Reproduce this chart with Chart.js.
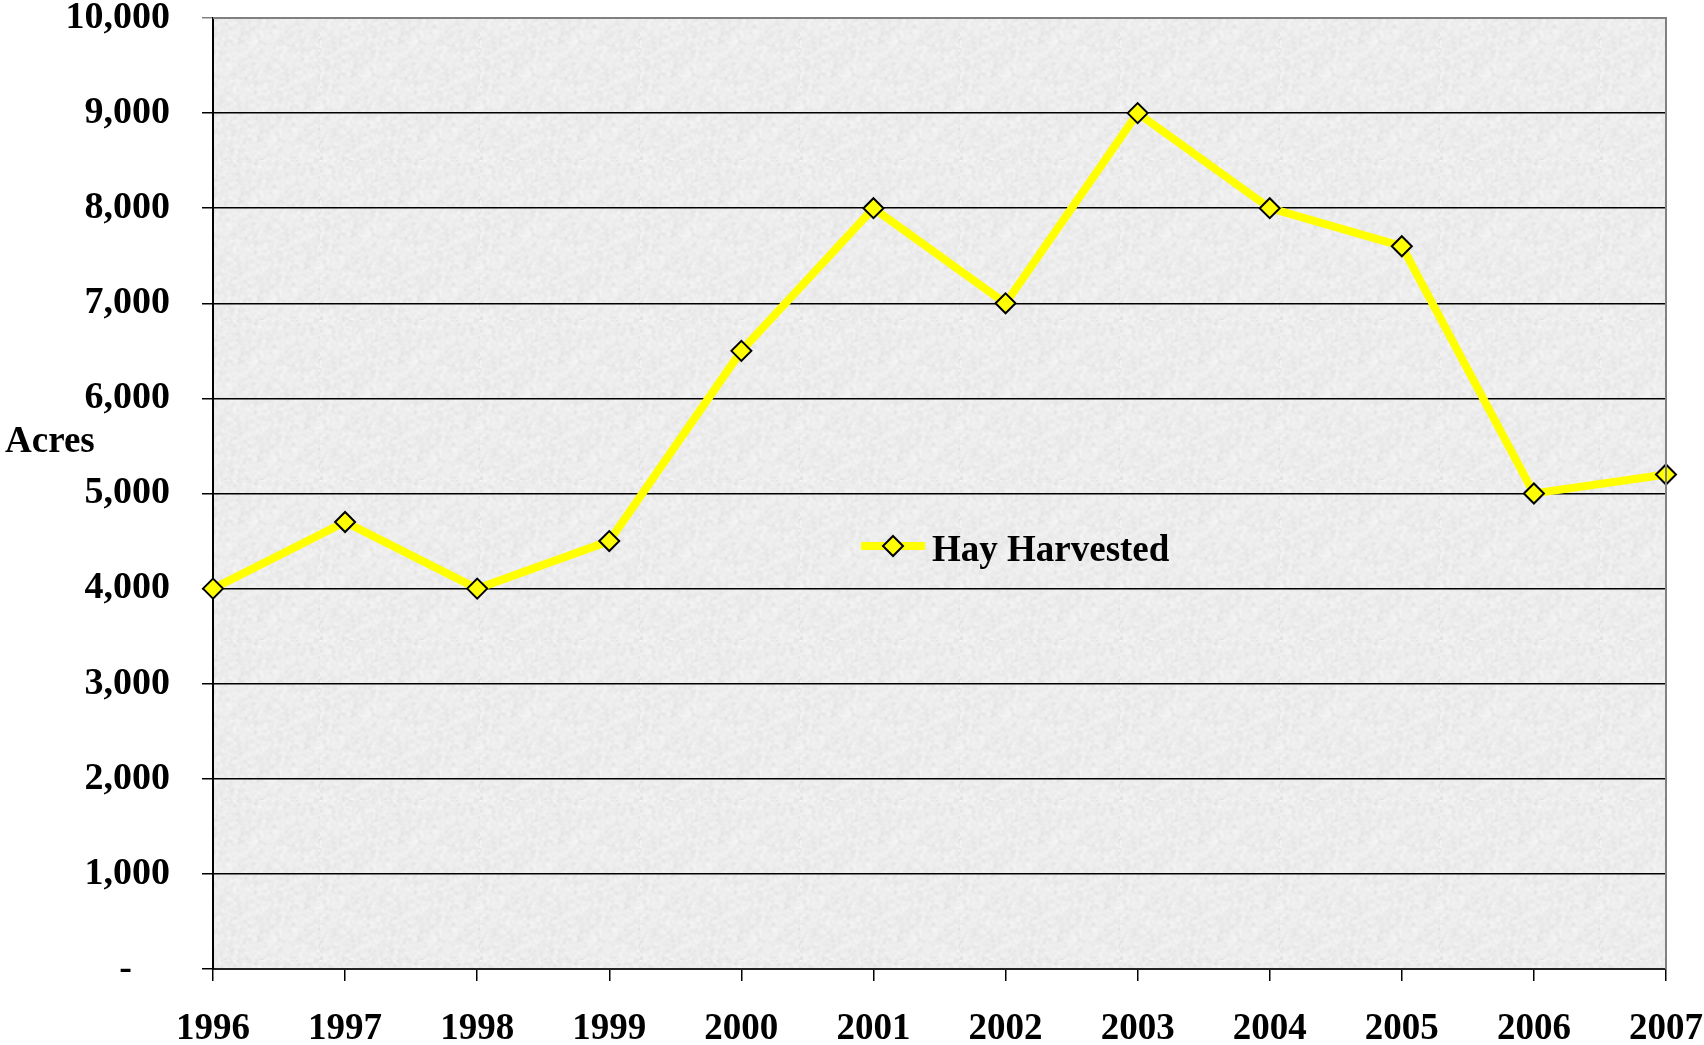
<!DOCTYPE html>
<html>
<head>
<meta charset="utf-8">
<style>
  html, body { margin: 0; padding: 0; background: #fff; }
  #wrap { width: 1704px; height: 1045px; }
</style>
<script src="https://cdn.jsdelivr.net/npm/chart.js@4"></script>
</head>
<body>
<div id="wrap"><canvas id="myChart" width="1704" height="1045"></canvas></div>
<script>
const years = ["1996", "1997", "1998", "1999", "2000", "2001", "2002", "2003", "2004", "2005", "2006", "2007"];
const hayHarvested = [4000, 4700, 4000, 4500, 6500, 8000, 7000, 9000, 8000, 7600, 5000, 5200];
const yTicks = [0, 1000, 2000, 3000, 4000, 5000, 6000, 7000, 8000, 9000, 10000];
const seriesName = "Hay Harvested";
const axisTitle = "Acres";

const FONT = '"Liberation Serif", "Times New Roman", serif';

// granite-like texture for the plot background (deterministic hash noise)
function makeTexture() {
    const c = document.createElement("canvas");
    c.width = 160; c.height = 160;
    const g = c.getContext("2d");
    const img = g.createImageData(160, 160);
    let s = 12345;
    function rnd() { s = (s * 1103515245 + 12345) & 0x7fffffff; return s / 0x7fffffff; }
    for (let i = 0; i < 160 * 160; i++) {
        const v = 226 + Math.floor(rnd() * 29) - (rnd() < 0.12 ? 28 : 0);
        img.data[i * 4] = v; img.data[i * 4 + 1] = v; img.data[i * 4 + 2] = v; img.data[i * 4 + 3] = 255;
    }
    g.putImageData(img, 0, 0);
    g.filter = "blur(0.8px)";
    g.drawImage(c, 0, 0);
    return c;
}

const plotDecor = {
    id: "plotDecor",
    beforeDraw(chart) {
        const { ctx, chartArea: a } = chart;
        ctx.save();
        ctx.fillStyle = ctx.createPattern(makeTexture(), "repeat");
        ctx.fillRect(a.left, a.top, a.right - a.left, a.bottom - a.top);
        ctx.restore();
    },
    afterDraw(chart) {
        const { ctx, chartArea: a } = chart;
        ctx.save();
        // grey frame on top and right
        ctx.strokeStyle = "#808080";
        ctx.lineWidth = 2;
        ctx.beginPath();
        ctx.moveTo(a.left, a.top);
        ctx.lineTo(a.right, a.top);
        ctx.lineTo(a.right, a.bottom);
        ctx.stroke();
        // axis title, horizontal
        ctx.fillStyle = "#000";
        ctx.font = "bold 37px " + FONT;
        ctx.textAlign = "left";
        ctx.textBaseline = "middle";
        ctx.fillText(axisTitle, 5, 442);
        // legend inside the plot
        const ly = 546;
        ctx.strokeStyle = "#FFFF00";
        ctx.lineWidth = 8;
        ctx.beginPath();
        ctx.moveTo(861, ly);
        ctx.lineTo(925, ly);
        ctx.stroke();
        ctx.fillStyle = "#FFFF00";
        ctx.strokeStyle = "#000";
        ctx.lineWidth = 2;
        ctx.beginPath();
        ctx.moveTo(893, ly - 10);
        ctx.lineTo(903, ly);
        ctx.lineTo(893, ly + 10);
        ctx.lineTo(883, ly);
        ctx.closePath();
        ctx.fill();
        ctx.stroke();
        ctx.fillStyle = "#000";
        ctx.font = "bold 37px " + FONT;
        ctx.fillText(seriesName, 932, ly + 5);
        ctx.restore();
    }
};

new Chart(document.getElementById("myChart").getContext("2d"), {
    type: "line",
    data: {
        labels: years,
        datasets: [{
            label: seriesName,
            data: hayHarvested,
            borderColor: "#FFFF00",
            borderWidth: 8,
            backgroundColor: "#FFFF00",
            pointStyle: "rectRot",
            pointRadius: 10,
            pointBorderColor: "#000",
            pointBorderWidth: 2,
            pointBackgroundColor: "#FFFF00",
            tension: 0
        }]
    },
    options: {
        responsive: false,
        animation: false,
        layout: { padding: { top: 18, right: 38, left: 0, bottom: 0 } },
        plugins: {
            legend: { display: false },
            tooltip: { enabled: false }
        },
        scales: {
            x: {
                offset: false,
                grid: { drawOnChartArea: false, color: "#000", tickLength: 12, lineWidth: 1.5 },
                border: { color: "#222", width: 2 },
                ticks: {
                    color: "#000", padding: 26, maxRotation: 0, autoSkip: false,
                    font: { family: FONT, size: 37, weight: "bold" }
                },
                afterFit(scale) {
                    scale.height = 76;
                    scale.paddingLeft = 0;
                    scale.paddingRight = 0;
                }
            },
            y: {
                min: 0, max: 10000,
                afterBuildTicks(scale) { scale.ticks = yTicks.map(v => ({ value: v })); },
                grid: {
                    color: ctx => (ctx.tick && ctx.tick.value === 10000 ? "#808080" : "#000"),
                    lineWidth: 1.5, tickLength: 11
                },
                border: { color: "#000", width: 2 },
                ticks: {
                    color: "#000", padding: 32,
                    font: { family: FONT, size: 38, weight: "bold" },
                    callback: v => (v === 0 ? "-    " : v.toLocaleString("en-US"))
                },
                afterFit(scale) {
                    scale.width = 213;
                    scale.paddingTop = 0;
                    scale.paddingBottom = 0;
                }
            }
        }
    },
    plugins: [plotDecor]
});
</script>
</body>
</html>
